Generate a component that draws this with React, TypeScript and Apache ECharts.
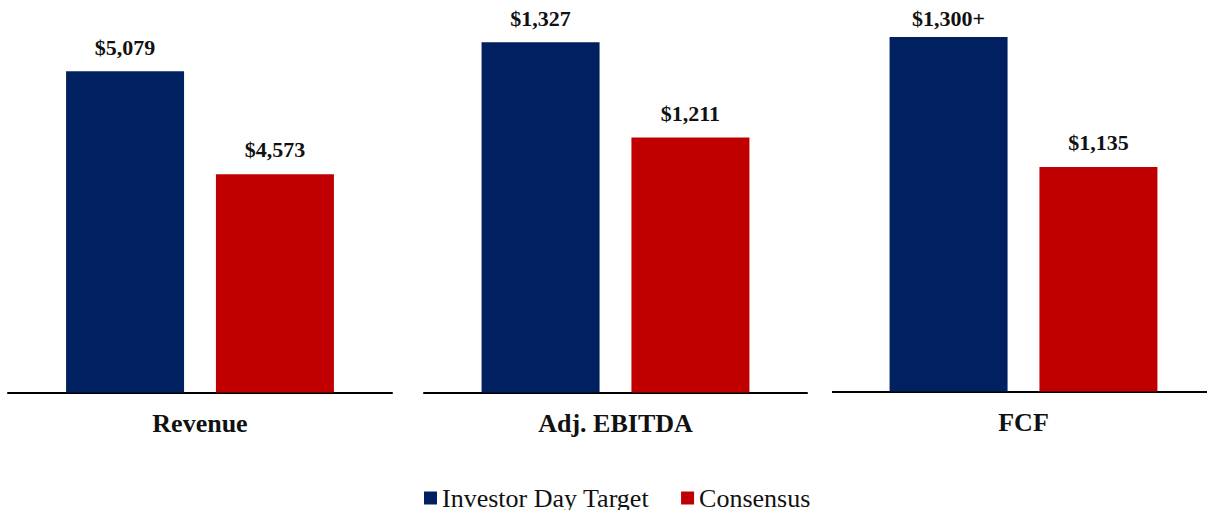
import React, { useEffect, useRef } from "react";
import * as echarts from "echarts";

const categories = ["Revenue", "Adj. EBITDA", "FCF"];
const seriesNames = ["Investor Day Target", "Consensus"];
const investorDayTarget = [5079, 1327, 1300];
const consensus = [4573, 1211, 1135];
const targetSuffix = ["", "", "+"];
const consensusSuffix = ["", "", ""];

const axisMin = [3500, 900, 850];
const axisMax = [5400, 1375, 1340];

const colors = ["#002060", "#C00000"];
const FONT = "'Liberation Serif', 'Times New Roman', serif";

const grids = [
  { left: 8, right: 815, top: 6, bottom: 117.5 },
  { left: 424, right: 400, top: 3, bottom: 117.5 },
  { left: 840, right: 0, top: 5.6, bottom: 118.5 },
];
// label distance per panel / series (Excel squeezes the top-most label)
const labelDistance = [
  [13, 14],
  [13, 13],
  [8, 14],
];

function fmt(v: number, suffix: string) {
  return "$" + v.toLocaleString("en-US") + suffix;
}

export default function App() {
  const ref = useRef<HTMLDivElement>(null);
  useEffect(() => {
    if (!ref.current) return;
    const chart = echarts.init(ref.current, null, { renderer: "svg" });
    const series: any[] = [];
    categories.forEach((cat, i) => {
      const sets = [
        { vals: investorDayTarget, suf: targetSuffix },
        { vals: consensus, suf: consensusSuffix },
      ];
      sets.forEach((s, j) => {
        series.push({
          type: "bar",
          name: seriesNames[j],
          xAxisIndex: i,
          yAxisIndex: i,
          data: [s.vals[i]],
          barWidth: 118,
          barGap: "27%",
          itemStyle: { color: colors[j] },
          label: {
            show: true,
            position: "top",
            distance: labelDistance[i][j],
            fontFamily: FONT,
            fontSize: 22,
            fontWeight: "bold",
            color: "#111",
            formatter: () => fmt(s.vals[i], s.suf[i]),
          },
        });
      });
    });
    chart.setOption({
      animation: false,
      backgroundColor: "#fff",
      grid: grids.map((g) => ({ ...g, containLabel: false })),
      graphic: [
        {
          type: "line",
          shape: { x1: 832, y1: 392, x2: 842, y2: 392 },
          style: { stroke: "#000", lineWidth: 2 },
        },
      ],
      xAxis: categories.map((c, i) => ({
        type: "category",
        gridIndex: i,
        data: [c],
        axisLine: { show: true, onZero: false, lineStyle: { color: "#000", width: 2 } },
        axisTick: { show: false },
        axisLabel: {
          show: true,
          margin: 18,
          fontFamily: FONT,
          fontSize: 26,
          fontWeight: "bold",
          color: "#111",
        },
      })),
      yAxis: categories.map((c, i) => ({
        type: "value",
        gridIndex: i,
        min: axisMin[i],
        max: axisMax[i],
        show: false,
        splitLine: { show: false },
      })),
      legend: {
        data: seriesNames,
        left: 419,
        top: 480,
        icon: "rect",
        itemWidth: 13,
        itemHeight: 13,
        itemGap: 32,
        textStyle: { fontFamily: FONT, fontSize: 26, color: "#111" },
      },
      series,
    });
    return () => chart.dispose();
  }, []);
  return (
    <div
      ref={ref}
      style={{ position: "fixed", left: 0, top: 0, width: 1207, height: 510 }}
    />
  );
}
